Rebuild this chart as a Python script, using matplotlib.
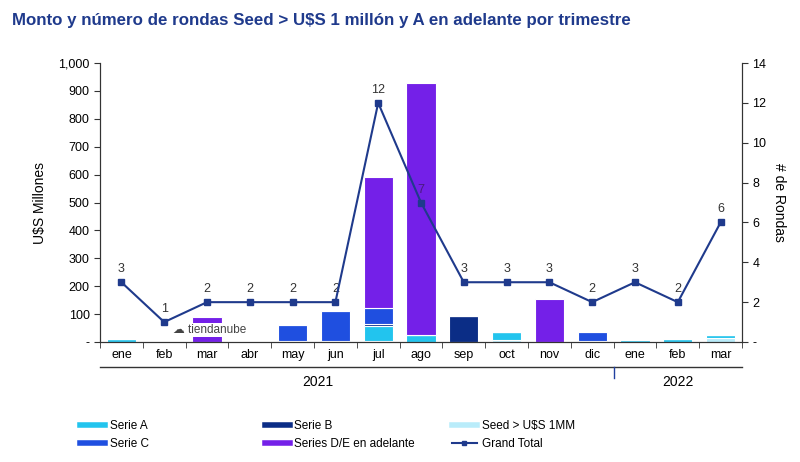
import numpy as np
import matplotlib
matplotlib.use("Agg")
import matplotlib.pyplot as plt
from matplotlib.lines import Line2D
from matplotlib.ticker import FuncFormatter

plt.rcParams['font.family'] = ['Liberation Sans', 'DejaVu Sans']

months = ['ene', 'feb', 'mar', 'abr', 'may', 'jun', 'jul', 'ago', 'sep',
          'oct', 'nov', 'dic', 'ene', 'feb', 'mar']
years = ['2021', '2022']
year_counts = [12, 3]

# amounts (U$S millions), stacked bottom to top
seed = [0, 0, 0, 0, 4, 5, 5, 0, 0, 6, 0, 3, 0, 0, 15]
serie_a = [12, 0, 0, 0, 0, 0, 52, 25, 0, 30, 0, 0, 6, 12, 10]
serie_b = [0, 0, 0, 0, 0, 0, 8, 0, 95, 0, 0, 0, 0, 0, 0]
serie_c = [0, 0, 0, 0, 56, 105, 57, 0, 0, 0, 0, 32, 0, 0, 0]
serie_de = [0, 0, 90, 0, 0, 0, 469, 905, 0, 0, 155, 0, 0, 0, 0]
grand_total = [3, 1, 2, 2, 2, 2, 12, 7, 3, 3, 3, 2, 3, 2, 6]

c_seed = '#b9ecfa'
c_a = '#22c4ee'
c_b = '#0b2d86'
c_c = '#1f4fe0'
c_de = '#7420e8'
c_line = '#1f3a8c'

fig = plt.figure(figsize=(8, 4.62), dpi=100)
ax = fig.add_axes([0.125, 0.2597, 0.8025, 0.6039])
ax2 = ax.twinx()

x = np.arange(len(months))
w = 0.68
bottom = np.zeros(len(months))
series = [(seed, c_seed), (serie_a, c_a), (serie_b, c_b), (serie_c, c_c), (serie_de, c_de)]
for vals, col in series:
    v = np.array(vals, dtype=float)
    ax.bar(x, v, w, bottom=bottom, color=col, edgecolor='white', linewidth=0.8, zorder=2)
    bottom += v

ax.set_ylim(0, 1000)
ax.set_xlim(-0.5, len(months) - 0.5)
ax.set_yticks(np.arange(0, 1001, 100))
ax.yaxis.set_major_formatter(FuncFormatter(lambda v, p: '-' if v == 0 else f'{int(v):,}'))
ax.set_xticks(x)
ax.set_xticklabels(months, fontsize=9)
ax.set_xticks(np.arange(-0.5, len(months), 1), minor=True)
ax.tick_params(axis='x', which='major', length=0, pad=5)
ax.tick_params(axis='x', which='minor', length=4, direction='out', color='#333333')
ax.tick_params(axis='y', labelsize=9, length=4, color='#333333')
ax.set_ylabel('U$S Millones', fontsize=10, labelpad=8)

ax2.plot(x, grand_total, color=c_line, marker='s', markersize=4, linewidth=1.5, zorder=5)
ax2.set_ylim(0, 14)
ax2.set_yticks(np.arange(0, 15, 2))
ax2.yaxis.set_major_formatter(FuncFormatter(lambda v, p: '-' if v == 0 else f'{int(v)}'))
ax2.tick_params(axis='y', labelsize=9, length=4, color='#333333')
ax2.set_ylabel('# de Rondas', fontsize=10, rotation=270, labelpad=14)
for i, v in enumerate(grand_total):
    col = '#4a1a80' if i == 7 else '#333333'
    ax2.text(i, v + 0.35, str(v), ha='center', va='bottom', fontsize=9, color=col)

for a in (ax, ax2):
    a.spines['top'].set_visible(False)
    for s in ('left', 'right', 'bottom'):
        a.spines[s].set_color('#333333')

# year level below month labels
xt = ax.get_xaxis_transform()
ax.plot([-0.5, len(months) - 0.5], [-0.09, -0.09], transform=xt,
        color='#333333', linewidth=1, clip_on=False)
ax.text(4.6, -0.12, years[0], transform=xt, ha='center', va='top', fontsize=10)
ax.text(year_counts[0] + year_counts[1] / 2 - 0.5, -0.12, years[1], transform=xt,
        ha='center', va='top', fontsize=10)
ax.plot([11.5, 11.5], [-0.09, -0.13], transform=xt, color='#2040a0', linewidth=1, clip_on=False)

# logo
ax.text(2.05, 42, '\u2601 tiendanube', ha='center', va='center', fontsize=8.5, color='#444444',
        bbox=dict(facecolor='white', edgecolor='none', pad=0.6), zorder=4)

fig.text(0.015, 0.955, 'Monto y número de rondas Seed > U$S 1 millón y A en adelante por trimestre',
         fontsize=12.2, fontweight='bold', color='#1f3a8c', va='center')

def legend_col(items, x0):
    hs = [h for h, _ in items]
    ls = [l for _, l in items]
    leg = fig.legend(hs, ls, loc='upper left', bbox_to_anchor=(x0, 0.091), frameon=False,
                     fontsize=8.5, handlelength=2.1, handletextpad=0.4, labelspacing=0.55,
                     borderpad=0, borderaxespad=0)
    return leg

legend_col([(Line2D([], [], color=c_a, linewidth=4), 'Serie A'),
            (Line2D([], [], color=c_c, linewidth=4), 'Serie C')], 0.1)
legend_col([(Line2D([], [], color=c_b, linewidth=4), 'Serie B'),
            (Line2D([], [], color=c_de, linewidth=4), 'Series D/E en adelante')], 0.331)
legend_col([(Line2D([], [], color=c_seed, linewidth=4), 'Seed > U$S 1MM'),
            (Line2D([], [], color=c_line, marker='s', markersize=3, linewidth=1.5), 'Grand Total')],
           0.565)

fig.savefig('out.png', dpi=100)
